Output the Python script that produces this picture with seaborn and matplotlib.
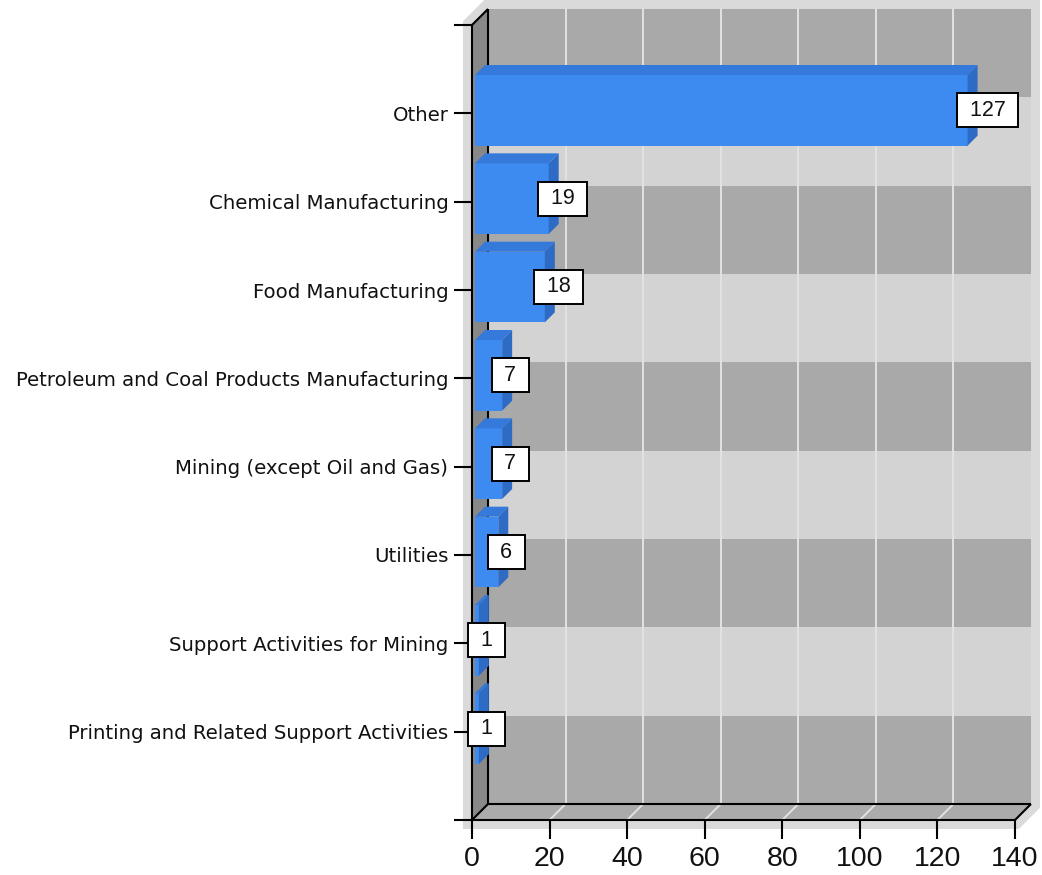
import matplotlib
matplotlib.use("Agg")
import matplotlib.pyplot as plt
import matplotlib.transforms as mtransforms
from matplotlib.patches import Polygon, Rectangle
from matplotlib.lines import Line2D
import pandas as pd
import seaborn as sns

# ---- data -------------------------------------------------------------
categories = [
    "Other",
    "Chemical Manufacturing",
    "Food Manufacturing",
    "Petroleum and Coal Products Manufacturing",
    "Mining (except Oil and Gas)",
    "Utilities",
    "Support Activities for Mining",
    "Printing and Related Support Activities",
]
counts = [127, 19, 18, 7, 7, 6, 1, 1]
x_ticks = [0, 20, 40, 60, 80, 100, 120, 140]

df = pd.DataFrame({"category": categories, "count": counts})

# ---- style ------------------------------------------------------------
sns.set_theme(style="white")
plt.rcParams["font.family"] = ["DejaVu Sans"]

FRONT = "#3d8af0"
TOP = "#3579da"
SIDE = "#2e6bc5"
BAND_DARK = "#a9a9a9"
BAND_LIGHT = "#d3d3d3"
LEFT_WALL = "#888888"
FLOOR = "#ababab"
SHADOW = "#dadada"
GRID = "#e2e2e2"

W, H, DPI = 1042, 875, 100
fig = plt.figure(figsize=(W / DPI, H / DPI), dpi=DPI)
fig.patch.set_facecolor("white")
ax = fig.add_axes([472 / W, 1 - 820 / H, (1015 - 472) / W, (820 - 25) / H])
ax.set_facecolor("none")

n = len(categories)
XMAX = x_ticks[-1]
WALL = 16     # depth of the box, pixels
BAR_IN = 3    # bar front plane sits slightly inside the box
BAR_D = 10    # bar depth, pixels

# ---- bars (front faces) ----------------------------------------------
sns.barplot(data=df, x="count", y="category", orient="h", color=FRONT,
            saturation=1, width=0.8, ax=ax)
bar_patches = list(ax.patches)
ax.set_xlim(0, XMAX)
ax.set_ylim(n, -1)
ax.set_xlabel("")
ax.set_ylabel("")


def shifted(depth):
    return mtransforms.offset_copy(ax.transData, fig=fig, x=depth, y=depth,
                                   units="dots")


def to_px(x, y, depth):
    px, py = ax.transData.transform((x, y))
    return (px + depth, py + depth)


def face(points, color, z, **kw):
    poly = Polygon([to_px(*p) for p in points], closed=True,
                   transform=mtransforms.IdentityTransform(),
                   facecolor=color, edgecolor=kw.pop("edgecolor", "none"),
                   clip_on=False, zorder=z, **kw)
    ax.add_artist(poly)
    return poly


def edge(p0, p1, color="black", lw=1.5, z=2):
    a, b = to_px(*p0), to_px(*p1)
    ln = Line2D([a[0], b[0]], [a[1], b[1]], color=color, lw=lw,
                transform=mtransforms.IdentityTransform(), clip_on=False,
                zorder=z, solid_capstyle="butt")
    ax.add_artist(ln)


y_top, y_bot = -1, n

# drop shadow around the whole box
face([(0, y_top, 0), (0, y_top, WALL), (XMAX, y_top, WALL),
      (XMAX, y_bot, WALL), (XMAX, y_bot, 0), (0, y_bot, 0)],
     SHADOW, 0.1, edgecolor=SHADOW, linewidth=13, joinstyle="miter")

# back wall with alternating bands
back = shifted(WALL)
for k in range(y_top, y_bot):
    col = BAND_DARK if (k + 1) % 2 == 0 else BAND_LIGHT
    ax.add_artist(Rectangle((0, k), XMAX, 1, transform=back, facecolor=col,
                            edgecolor="none", clip_on=False, zorder=0.2))
for xv in x_ticks[1:-1]:
    ax.add_artist(Line2D([xv, xv], [y_top, y_bot], transform=back, color=GRID,
                         lw=1.4, clip_on=False, zorder=0.3))

# left wall and floor
face([(0, y_top, 0), (0, y_top, WALL), (0, y_bot, WALL), (0, y_bot, 0)],
     LEFT_WALL, 0.4)
face([(0, y_bot, 0), (XMAX, y_bot, 0), (XMAX, y_bot, WALL), (0, y_bot, WALL)],
     FLOOR, 0.4)
for xv in x_ticks[1:-1]:
    edge((xv, y_bot, 0), (xv, y_bot, WALL), color=GRID, lw=1.4, z=0.45)

# box edges behind the bars
edge((0, y_top, WALL), (0, y_bot, WALL), z=0.5)
edge((0, y_bot, WALL), (XMAX, y_bot, WALL), z=0.5)
edge((0, y_top, 0), (0, y_top, WALL), z=0.5)
edge((0, y_bot, 0), (0, y_bot, WALL), z=0.5)
edge((XMAX, y_bot, 0), (XMAX, y_bot, WALL), z=0.5)

# bars: move front faces into the box and add top / side faces
front_tr = shifted(BAR_IN)
for p in bar_patches:
    x0, y0, w, h = p.get_x(), p.get_y(), p.get_width(), p.get_height()
    p.set_transform(front_tr)
    p.set_clip_on(False)
    p.set_edgecolor("none")
    p.set_zorder(3)
    d0, d1 = BAR_IN, BAR_IN + BAR_D
    face([(x0, y0, d0), (x0, y0, d1), (x0 + w, y0, d1), (x0 + w, y0, d0)],
         TOP, 3)
    face([(x0 + w, y0, d0), (x0 + w, y0, d1), (x0 + w, y0 + h, d1),
          (x0 + w, y0 + h, d0)], SIDE, 3)

# value labels
for i, v in enumerate(counts):
    ax.annotate(f" {v} ", xy=(v, i), xycoords="data",
                xytext=(-1, BAR_IN), textcoords="offset pixels",
                ha="left", va="center", fontsize=15.5,
                family=["Liberation Sans", "DejaVu Sans"], color="#111111",
                bbox=dict(boxstyle="square,pad=0.3", facecolor="white",
                          edgecolor="black", linewidth=1.4),
                zorder=6, annotation_clip=False)

# front axes
for s in ["top", "right"]:
    ax.spines[s].set_visible(False)
for s in ["left", "bottom"]:
    ax.spines[s].set_visible(True)
    ax.spines[s].set_color("black")
    ax.spines[s].set_linewidth(1.5)
    ax.spines[s].set_zorder(4)

ax.set_yticks(range(y_top, y_bot + 1))
ax.set_yticklabels([""] + categories + [""])
ax.set_xticks(x_ticks)
ax.set_xticklabels([str(t) for t in x_ticks])
ax.tick_params(axis="y", length=13, width=1.5, color="black", pad=4,
               labelsize=14.2, labelcolor="#111111", left=True)
ax.tick_params(axis="x", length=14, width=1.5, color="black", pad=5,
               labelsize=20.5, labelcolor="#111111", bottom=True)
for lab in ax.get_xticklabels():
    lab.set_family(["Liberation Sans", "DejaVu Sans"])
ax.grid(False)

fig.savefig("out.png", dpi=DPI)
